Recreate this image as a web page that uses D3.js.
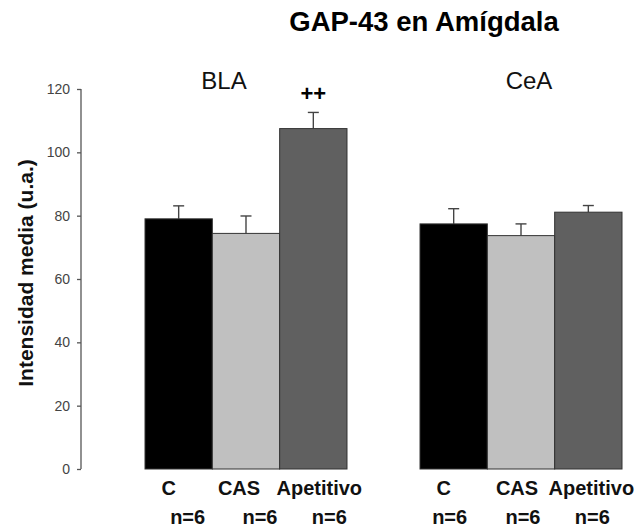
<!DOCTYPE html>
<html>
<head>
<meta charset="utf-8">
<script src="https://cdn.jsdelivr.net/npm/d3@7"></script>
<style>
  body { margin: 0; background: #fff; }
  svg { display: block; font-family: "Liberation Sans", Arial, sans-serif; }
</style>
</head>
<body>
<div id="chart-area"></div>
<script>
// data
var regions = ["BLA", "CeA"];
var groups = ["C", "CAS", "Apetitivo"];
var counts = ["n=6", "n=6", "n=6"];
var meanBLA = [79, 74.4, 107.5];
var semBLA = [4.1, 5.5, 5.1];
var meanCeA = [77.4, 73.7, 81.1];
var semCeA = [4.8, 3.7, 2.1];
var marksBLA = ["", "", "++"];
var marksCeA = ["", "", ""];
var yTicks = [0, 20, 40, 60, 80, 100, 120];

var colors = ["#000000", "#c0c0c0", "#606060"];

// label nudges (the original labels sit on tab stops, not bar centres)
var row1Shift = [[-10, -7, 6], [-10, -4, 3]];
var row2Shift = [[9, 14, 16], [-4, 2, 4]];

var panels = regions.map(function(r, i) {
    return {
        region: r,
        mean: i === 0 ? meanBLA : meanCeA,
        sem: i === 0 ? semBLA : semCeA,
        marks: i === 0 ? marksBLA : marksCeA
    };
});

var width = 641, height = 529;

var svg = d3.select("#chart-area")
    .append("svg")
    .attr("width", width)
    .attr("height", height);

// Scales
var y = d3.scaleLinear()
    .domain([0, 120])
    .range([469, 89]);

var xPanel = d3.scaleBand()
    .domain(regions)
    .range([145, 622])
    .paddingInner(0.2655);

var xGroup = d3.scaleBand()
    .domain(groups)
    .range([0, xPanel.bandwidth()]);

// Title
svg.append("text")
    .attr("x", 424)
    .attr("y", 31)
    .attr("text-anchor", "middle")
    .attr("font-size", "27.5px")
    .attr("font-weight", "bold")
    .text("GAP-43 en Amígdala");

// Y Axis
var yAxisCall = d3.axisLeft(y)
    .tickValues(yTicks)
    .tickSize(4)
    .tickPadding(7)
    .tickFormat(d3.format("d"));

var yAxis = svg.append("g")
    .attr("class", "y axis")
    .attr("transform", "translate(81,0)")
    .call(yAxisCall);

yAxis.select(".domain")
    .attr("stroke", "#555")
    .attr("stroke-width", 1.3)
    .attr("d", "M0," + y(120) + "V" + y(0));
yAxis.selectAll(".tick line")
    .attr("stroke", "#555")
    .attr("stroke-width", 1.3);
yAxis.selectAll(".tick text")
    .attr("font-size", "14px")
    .attr("fill", "#444")
    .attr("font-family", "Liberation Sans, Arial, sans-serif");

// Y Label
svg.append("text")
    .attr("transform", "translate(33," + 273 + ") rotate(-90)")
    .attr("text-anchor", "middle")
    .attr("font-size", "21px")
    .attr("font-weight", "bold")
    .attr("fill", "#111")
    .text("Intensidad media (u.a.)");

// Panels
var panel = svg.selectAll("g.panel")
    .data(panels)
    .enter()
    .append("g")
    .attr("class", "panel")
    .attr("transform", function(d) { return "translate(" + xPanel(d.region) + ",0)"; });

panel.append("text")
    .attr("x", function(d, i) { return i === 0 ? 79 : 109; })
    .attr("y", 89)
    .attr("text-anchor", "middle")
    .attr("font-size", "24px")
    .attr("fill", "#111")
    .text(function(d) { return d.region; });

function rows(d) {
    return groups.map(function(g, j) {
        return { group: g, mean: d.mean[j], sem: d.sem[j], mark: d.marks[j], n: counts[j], j: j };
    });
}

var bar = panel.selectAll("g.bar")
    .data(function(d, i) {
        return rows(d).map(function(r) { r.p = i; return r; });
    })
    .enter()
    .append("g")
    .attr("class", "bar");

// error bars (drawn first, bar covers the lower half)
bar.append("line")
    .attr("x1", function(d) { return xGroup(d.group) + xGroup.bandwidth() / 2; })
    .attr("x2", function(d) { return xGroup(d.group) + xGroup.bandwidth() / 2; })
    .attr("y1", function(d) { return y(d.mean); })
    .attr("y2", function(d) { return y(d.mean + d.sem); })
    .attr("stroke", "#444")
    .attr("stroke-width", 1.4);

bar.append("line")
    .attr("x1", function(d) { return xGroup(d.group) + xGroup.bandwidth() / 2 - 5.5; })
    .attr("x2", function(d) { return xGroup(d.group) + xGroup.bandwidth() / 2 + 5.5; })
    .attr("y1", function(d) { return y(d.mean + d.sem); })
    .attr("y2", function(d) { return y(d.mean + d.sem); })
    .attr("stroke", "#444")
    .attr("stroke-width", 1.4);

bar.append("rect")
    .attr("x", function(d) { return xGroup(d.group); })
    .attr("y", function(d) { return y(d.mean); })
    .attr("width", xGroup.bandwidth())
    .attr("height", function(d) { return y(0) - y(d.mean); })
    .attr("fill", function(d) { return colors[d.j]; })
    .attr("stroke", "#333")
    .attr("stroke-width", 1);

bar.append("text")
    .attr("x", function(d) { return xGroup(d.group) + xGroup.bandwidth() / 2; })
    .attr("y", function(d) { return y(d.mean + d.sem) - 11; })
    .attr("text-anchor", "middle")
    .attr("font-size", "22px")
    .attr("font-weight", "bold")
    .text(function(d) { return d.mark; });

// category labels
bar.append("text")
    .attr("x", function(d) { return xGroup(d.group) + xGroup.bandwidth() / 2 + row1Shift[d.p][d.j]; })
    .attr("y", 495)
    .attr("text-anchor", "middle")
    .attr("font-size", "20px")
    .attr("font-weight", "bold")
    .attr("fill", "#111")
    .text(function(d) { return d.group; });

bar.append("text")
    .attr("x", function(d) { return xGroup(d.group) + xGroup.bandwidth() / 2 + row2Shift[d.p][d.j]; })
    .attr("y", 524)
    .attr("text-anchor", "middle")
    .attr("font-size", "20px")
    .attr("font-weight", "bold")
    .attr("fill", "#111")
    .text(function(d) { return d.n; });
</script>
</body>
</html>
